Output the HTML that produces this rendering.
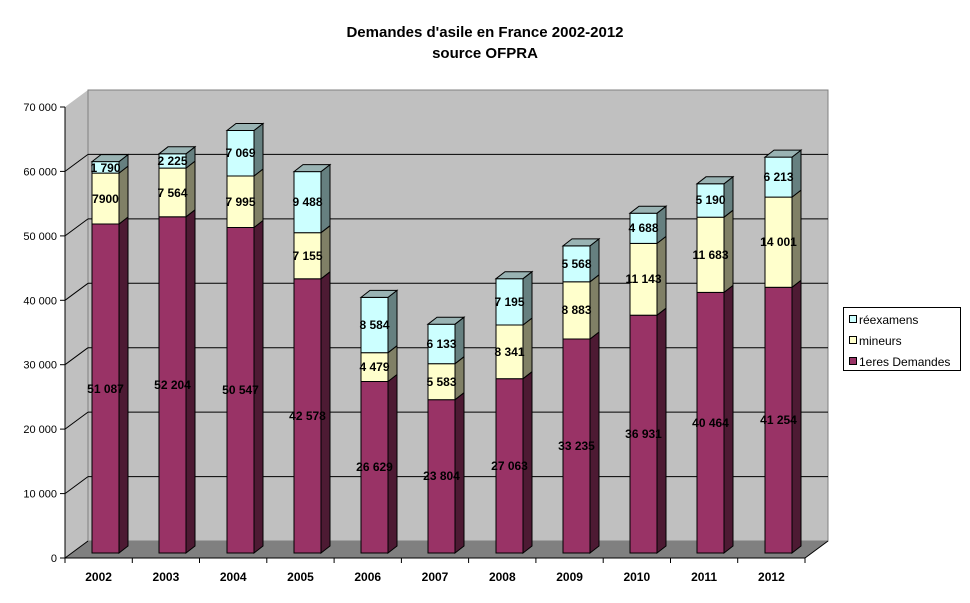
<!DOCTYPE html>
<html><head><meta charset="utf-8"><style>
body{margin:0;background:#fff;}
svg{display:block;font-family:"Liberation Sans",Arial,sans-serif;}
.l{font-size:12px;font-weight:bold;text-anchor:middle;}
.y{font-size:11px;text-anchor:end;}
</style></head><body>
<svg width="970" height="603" viewBox="0 0 970 603">
<text x="485" y="37" font-size="15" font-weight="bold" text-anchor="middle">Demandes d'asile en France 2002-2012</text>
<text x="485" y="58" font-size="15" font-weight="bold" text-anchor="middle">source OFPRA</text>
<!-- walls -->
<polygon points="65,107 88,90 88,541 65,558" fill="#c0c0c0"/>
<rect x="88" y="90" width="740" height="451" fill="#c0c0c0" stroke="#808080" stroke-width="1"/>
<polygon points="65,558 805,558 828,541 88,541" fill="#808080"/>
<g stroke="#000" stroke-width="1">
<line x1="88" y1="476.6" x2="828" y2="476.6"/><line x1="65" y1="493.6" x2="88" y2="476.6"/>
<line x1="88" y1="412.1" x2="828" y2="412.1"/><line x1="65" y1="429.1" x2="88" y2="412.1"/>
<line x1="88" y1="347.7" x2="828" y2="347.7"/><line x1="65" y1="364.7" x2="88" y2="347.7"/>
<line x1="88" y1="283.3" x2="828" y2="283.3"/><line x1="65" y1="300.3" x2="88" y2="283.3"/>
<line x1="88" y1="218.9" x2="828" y2="218.9"/><line x1="65" y1="235.9" x2="88" y2="218.9"/>
<line x1="88" y1="154.4" x2="828" y2="154.4"/><line x1="65" y1="171.4" x2="88" y2="154.4"/>
<line x1="65" y1="558" x2="88" y2="541"/>
<line x1="805" y1="558" x2="828" y2="541"/>
<!-- axes -->
<line x1="65" y1="107" x2="65" y2="558"/>
<line x1="65" y1="558" x2="805" y2="558"/>
<line x1="60" y1="558" x2="65" y2="558"/><line x1="60" y1="493.6" x2="65" y2="493.6"/><line x1="60" y1="429.1" x2="65" y2="429.1"/><line x1="60" y1="364.7" x2="65" y2="364.7"/><line x1="60" y1="300.3" x2="65" y2="300.3"/><line x1="60" y1="235.9" x2="65" y2="235.9"/><line x1="60" y1="171.4" x2="65" y2="171.4"/><line x1="60" y1="107" x2="65" y2="107"/>
<line x1="65" y1="558" x2="65" y2="563"/><line x1="132.3" y1="558" x2="132.3" y2="563"/><line x1="199.5" y1="558" x2="199.5" y2="563"/><line x1="266.8" y1="558" x2="266.8" y2="563"/><line x1="334.1" y1="558" x2="334.1" y2="563"/><line x1="401.4" y1="558" x2="401.4" y2="563"/><line x1="468.6" y1="558" x2="468.6" y2="563"/><line x1="535.9" y1="558" x2="535.9" y2="563"/><line x1="603.2" y1="558" x2="603.2" y2="563"/><line x1="670.5" y1="558" x2="670.5" y2="563"/><line x1="737.7" y1="558" x2="737.7" y2="563"/><line x1="805" y1="558" x2="805" y2="563"/>
</g>
<g class="y">
<text x="57" y="562">0</text><text x="57" y="497.6">10 000</text><text x="57" y="433.1">20 000</text><text x="57" y="368.7">30 000</text><text x="57" y="304.3">40 000</text><text x="57" y="239.9">50 000</text><text x="57" y="175.4">60 000</text><text x="57" y="111">70 000</text>
</g>
<g class="l">
<text x="98.6" y="581">2002</text><text x="165.9" y="581">2003</text><text x="233.2" y="581">2004</text><text x="300.5" y="581">2005</text><text x="367.7" y="581">2006</text><text x="435" y="581">2007</text><text x="502.3" y="581">2008</text><text x="569.6" y="581">2009</text><text x="636.8" y="581">2010</text><text x="704.1" y="581">2011</text><text x="771.4" y="581">2012</text>
</g>

<!-- bars: local coords, front x 0..27 -->
<g stroke="#000" stroke-width="1">
<g transform="translate(92,0)">
<rect x="0" y="224" width="27" height="329" fill="#993366"/><polygon points="27,553 36,546 36,217 27,224" fill="#4d1a33"/>
<rect x="0" y="173.1" width="27" height="50.9" fill="#ffffcc"/><polygon points="27,224 36,217 36,166.1 27,173.1" fill="#808066"/>
<rect x="0" y="161.6" width="27" height="11.5" fill="#ccffff"/><polygon points="27,173.1 36,166.1 36,154.6 27,161.6" fill="#668080"/>
<polygon points="0,161.6 9,154.6 36,154.6 27,161.6" fill="#99b3b3"/>
</g>
<g transform="translate(159,0)">
<rect x="0" y="216.8" width="27" height="336.2" fill="#993366"/><polygon points="27,553 36,546 36,209.8 27,216.8" fill="#4d1a33"/>
<rect x="0" y="168.1" width="27" height="48.7" fill="#ffffcc"/><polygon points="27,216.8 36,209.8 36,161.1 27,168.1" fill="#808066"/>
<rect x="0" y="153.8" width="27" height="14.3" fill="#ccffff"/><polygon points="27,168.1 36,161.1 36,146.8 27,153.8" fill="#668080"/>
<polygon points="0,153.8 9,146.8 36,146.8 27,153.8" fill="#99b3b3"/>
</g>
<g transform="translate(227,0)">
<rect x="0" y="227.5" width="27" height="325.5" fill="#993366"/><polygon points="27,553 36,546 36,220.5 27,227.5" fill="#4d1a33"/>
<rect x="0" y="176" width="27" height="51.5" fill="#ffffcc"/><polygon points="27,227.5 36,220.5 36,169 27,176" fill="#808066"/>
<rect x="0" y="130.5" width="27" height="45.5" fill="#ccffff"/><polygon points="27,176 36,169 36,123.5 27,130.5" fill="#668080"/>
<polygon points="0,130.5 9,123.5 36,123.5 27,130.5" fill="#99b3b3"/>
</g>
<g transform="translate(294,0)">
<rect x="0" y="278.8" width="27" height="274.2" fill="#993366"/><polygon points="27,553 36,546 36,271.8 27,278.8" fill="#4d1a33"/>
<rect x="0" y="232.7" width="27" height="46.1" fill="#ffffcc"/><polygon points="27,278.8 36,271.8 36,225.7 27,232.7" fill="#808066"/>
<rect x="0" y="171.6" width="27" height="61.1" fill="#ccffff"/><polygon points="27,232.7 36,225.7 36,164.6 27,171.6" fill="#668080"/>
<polygon points="0,171.6 9,164.6 36,164.6 27,171.6" fill="#99b3b3"/>
</g>
<g transform="translate(361,0)">
<rect x="0" y="381.5" width="27" height="171.5" fill="#993366"/><polygon points="27,553 36,546 36,374.5 27,381.5" fill="#4d1a33"/>
<rect x="0" y="352.7" width="27" height="28.8" fill="#ffffcc"/><polygon points="27,381.5 36,374.5 36,345.7 27,352.7" fill="#808066"/>
<rect x="0" y="297.4" width="27" height="55.3" fill="#ccffff"/><polygon points="27,352.7 36,345.7 36,290.4 27,297.4" fill="#668080"/>
<polygon points="0,297.4 9,290.4 36,290.4 27,297.4" fill="#99b3b3"/>
</g>
<g transform="translate(428,0)">
<rect x="0" y="399.7" width="27" height="153.3" fill="#993366"/><polygon points="27,553 36,546 36,392.7 27,399.7" fill="#4d1a33"/>
<rect x="0" y="363.7" width="27" height="36" fill="#ffffcc"/><polygon points="27,399.7 36,392.7 36,356.7 27,363.7" fill="#808066"/>
<rect x="0" y="324.2" width="27" height="39.5" fill="#ccffff"/><polygon points="27,363.7 36,356.7 36,317.2 27,324.2" fill="#668080"/>
<polygon points="0,324.2 9,317.2 36,317.2 27,324.2" fill="#99b3b3"/>
</g>
<g transform="translate(496,0)">
<rect x="0" y="378.7" width="27" height="174.3" fill="#993366"/><polygon points="27,553 36,546 36,371.7 27,378.7" fill="#4d1a33"/>
<rect x="0" y="325" width="27" height="53.7" fill="#ffffcc"/><polygon points="27,378.7 36,371.7 36,318 27,325" fill="#808066"/>
<rect x="0" y="278.7" width="27" height="46.3" fill="#ccffff"/><polygon points="27,325 36,318 36,271.7 27,278.7" fill="#668080"/>
<polygon points="0,278.7 9,271.7 36,271.7 27,278.7" fill="#99b3b3"/>
</g>
<g transform="translate(563,0)">
<rect x="0" y="339" width="27" height="214" fill="#993366"/><polygon points="27,553 36,546 36,332 27,339" fill="#4d1a33"/>
<rect x="0" y="281.8" width="27" height="57.2" fill="#ffffcc"/><polygon points="27,339 36,332 36,274.8 27,281.8" fill="#808066"/>
<rect x="0" y="245.9" width="27" height="35.9" fill="#ccffff"/><polygon points="27,281.8 36,274.8 36,238.9 27,245.9" fill="#668080"/>
<polygon points="0,245.9 9,238.9 36,238.9 27,245.9" fill="#99b3b3"/>
</g>
<g transform="translate(630,0)">
<rect x="0" y="315.2" width="27" height="237.8" fill="#993366"/><polygon points="27,553 36,546 36,308.2 27,315.2" fill="#4d1a33"/>
<rect x="0" y="243.4" width="27" height="71.8" fill="#ffffcc"/><polygon points="27,315.2 36,308.2 36,236.4 27,243.4" fill="#808066"/>
<rect x="0" y="213.2" width="27" height="30.2" fill="#ccffff"/><polygon points="27,243.4 36,236.4 36,206.2 27,213.2" fill="#668080"/>
<polygon points="0,213.2 9,206.2 36,206.2 27,213.2" fill="#99b3b3"/>
</g>
<g transform="translate(697,0)">
<rect x="0" y="292.4" width="27" height="260.6" fill="#993366"/><polygon points="27,553 36,546 36,285.4 27,292.4" fill="#4d1a33"/>
<rect x="0" y="217.2" width="27" height="75.2" fill="#ffffcc"/><polygon points="27,292.4 36,285.4 36,210.2 27,217.2" fill="#808066"/>
<rect x="0" y="183.8" width="27" height="33.4" fill="#ccffff"/><polygon points="27,217.2 36,210.2 36,176.8 27,183.8" fill="#668080"/>
<polygon points="0,183.8 9,176.8 36,176.8 27,183.8" fill="#99b3b3"/>
</g>
<g transform="translate(765,0)">
<rect x="0" y="287.3" width="27" height="265.7" fill="#993366"/><polygon points="27,553 36,546 36,280.3 27,287.3" fill="#4d1a33"/>
<rect x="0" y="197.1" width="27" height="90.2" fill="#ffffcc"/><polygon points="27,287.3 36,280.3 36,190.1 27,197.1" fill="#808066"/>
<rect x="0" y="157.1" width="27" height="40" fill="#ccffff"/><polygon points="27,197.1 36,190.1 36,150.1 27,157.1" fill="#668080"/>
<polygon points="0,157.1 9,150.1 36,150.1 27,157.1" fill="#99b3b3"/>
</g>
</g>
<!-- labels -->
<g class="l">
<text x="105.5" y="393">51 087</text><text x="105.5" y="203">7900</text><text x="105.5" y="172">1 790</text>
<text x="172.5" y="389">52 204</text><text x="172.5" y="197">7 564</text><text x="172.5" y="165">2 225</text>
<text x="240.5" y="394">50 547</text><text x="240.5" y="206">7 995</text><text x="240.5" y="157">7 069</text>
<text x="307.5" y="420">42 578</text><text x="307.5" y="260">7 155</text><text x="307.5" y="206">9 488</text>
<text x="374.5" y="471">26 629</text><text x="374.5" y="371">4 479</text><text x="374.5" y="329">8 584</text>
<text x="441.5" y="480">23 804</text><text x="441.5" y="386">5 583</text><text x="441.5" y="348">6 133</text>
<text x="509.5" y="470">27 063</text><text x="509.5" y="356">8 341</text><text x="509.5" y="306">7 195</text>
<text x="576.5" y="450">33 235</text><text x="576.5" y="314">8 883</text><text x="576.5" y="268">5 568</text>
<text x="643.5" y="438">36 931</text><text x="643.5" y="283">11 143</text><text x="643.5" y="232">4 688</text>
<text x="710.5" y="427">40 464</text><text x="710.5" y="259">11 683</text><text x="710.5" y="204">5 190</text>
<text x="778.5" y="424">41 254</text><text x="778.5" y="246">14 001</text><text x="778.5" y="181">6 213</text>
</g>
<!-- legend -->
<rect x="843.5" y="307.5" width="117" height="63" fill="#fff" stroke="#000"/>
<g stroke="#000" stroke-width="1">
<rect x="849.5" y="315.5" width="7" height="7" fill="#ccffff"/>
<rect x="849.5" y="336.5" width="7" height="7" fill="#ffffcc"/>
<rect x="849.5" y="357.5" width="7" height="7" fill="#993366"/>
</g>
<g font-size="12">
<text x="859" y="324">réexamens</text>
<text x="859" y="345">mineurs</text>
<text x="859" y="366">1eres Demandes</text>
</g>
</svg>
</body></html>
